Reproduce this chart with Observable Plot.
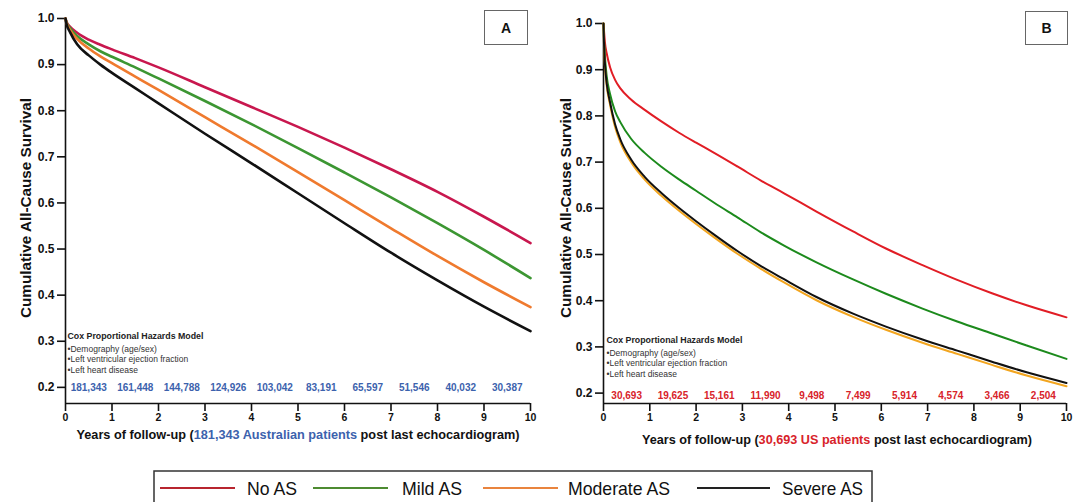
<!DOCTYPE html>
<html><head><meta charset="utf-8">
<script src="https://cdn.jsdelivr.net/npm/d3@7"></script>
<script src="https://cdn.jsdelivr.net/npm/@observablehq/plot@0.6"></script>
<style>
body{margin:0;background:#fff;}
#root{position:relative;width:1084px;height:502px;overflow:hidden;background:#fff;font-family:"Liberation Sans",Arial,Helvetica,sans-serif;}
.panel{position:absolute;top:0;}
.tag{position:absolute;border:1.3px solid #666;font:bold 14px "Liberation Sans",Arial,sans-serif;display:flex;align-items:center;justify-content:center;box-sizing:border-box;background:#fff;color:#111;}
</style></head><body><div id="root"></div>
<script>
// ---------- data ----------
const seriesNames = ["No AS", "Mild AS", "Moderate AS", "Severe AS"];
const xTicks = [0,1,2,3,4,5,6,7,8,9,10];
const yTicks = [0.2,0.3,0.4,0.5,0.6,0.7,0.8,0.9,1.0];

// Panel A (Australian cohort)
const tA    = [0, 0.02, 0.1, 0.25, 0.5, 0.75, 1, 1.5, 2, 3, 4, 5, 6, 7, 8, 9, 10];
const noA   = [1.0, 0.993, 0.982, 0.969, 0.954, 0.943, 0.933, 0.914, 0.894, 0.851, 0.808, 0.765, 0.720, 0.673, 0.624, 0.570, 0.513];
const mildA = [1.0, 0.992, 0.979, 0.962, 0.944, 0.929, 0.917, 0.894, 0.870, 0.821, 0.771, 0.719, 0.666, 0.612, 0.556, 0.498, 0.437];
const modA  = [1.0, 0.991, 0.975, 0.956, 0.935, 0.918, 0.903, 0.874, 0.845, 0.786, 0.727, 0.667, 0.606, 0.545, 0.485, 0.428, 0.374];
const sevA  = [1.0, 0.989, 0.970, 0.944, 0.920, 0.900, 0.882, 0.849, 0.816, 0.750, 0.686, 0.621, 0.556, 0.492, 0.432, 0.375, 0.322];
const atRiskA = [181343, 161448, 144788, 124926, 103042, 83191, 65597, 51546, 40032, 30387];

// Panel B (US cohort)
const tB    = [0, 0.01, 0.03, 0.07, 0.14, 0.25, 0.36, 0.6, 0.89, 1.25, 1.64, 2, 2.39, 2.9, 3.4, 3.89, 4.6, 5.39, 6.1, 6.89, 7.64, 8.39, 9.14, 10];
const noB   = [1.0, 0.985, 0.960, 0.935, 0.906, 0.878, 0.860, 0.835, 0.813, 0.788, 0.763, 0.742, 0.720, 0.690, 0.660, 0.633, 0.593, 0.550, 0.513, 0.477, 0.445, 0.416, 0.390, 0.364];
const mildB = [1.0, 0.970, 0.930, 0.885, 0.848, 0.810, 0.787, 0.750, 0.720, 0.690, 0.662, 0.638, 0.612, 0.580, 0.548, 0.520, 0.483, 0.446, 0.415, 0.383, 0.355, 0.329, 0.303, 0.274];
const modB  = [1.0, 0.955, 0.910, 0.865, 0.825, 0.776, 0.744, 0.699, 0.662, 0.627, 0.594, 0.566, 0.537, 0.501, 0.469, 0.440, 0.401, 0.365, 0.337, 0.309, 0.285, 0.261, 0.238, 0.215];
const sevB  = [1.0, 0.960, 0.915, 0.870, 0.830, 0.782, 0.750, 0.705, 0.668, 0.633, 0.600, 0.572, 0.543, 0.507, 0.475, 0.447, 0.408, 0.372, 0.344, 0.316, 0.292, 0.268, 0.245, 0.222];
const atRiskB = [30693, 19625, 15161, 11990, 9498, 7499, 5914, 4574, 3466, 2504];

const coxTitle = "Cox Proportional Hazards Model";
const coxLines = ["\u2022Demography (age/sex)", "\u2022Left ventricular ejection fraction", "\u2022Left heart disease"];
const yTitle = "Cumulative All-Cause Survival";
const xTitleA = ["Years of follow-up (", "181,343 Australian patients", " post last echocardiogram)"];
const xTitleB = ["Years of follow-up (", "30,693 US patients", " post last echocardiogram)"];

const colorsA = ["#c8174e", "#3c9632", "#ef7a2e", "#111111"];
const colorsB = ["#e11d25", "#1c8a1c", "#f2a51f", "#111111"];
const legendColors = ["#b8252f", "#4d8b31", "#e9843e", "#222222"];

// ---------- drawing ----------
const FONT = '"Liberation Sans", Arial, Helvetica, sans-serif';
const root = document.getElementById("root");

function makePanel(o) {
  const rows = seriesNames.flatMap((s, k) => o.t.map((t, i) => ({t, v: o.series[k][i], s})));
  const fmt = d3.format(",");
  const svg = Plot.plot({
    width: 542, height: 450,
    marginLeft: o.mLeft, marginRight: o.mRight, marginTop: o.mTop, marginBottom: 47,
    x: {domain: [0, 10]},
    y: {domain: [o.yBottom, 1]},
    color: {domain: seriesNames, range: o.colors},
    style: {fontFamily: FONT, background: "transparent", color: "#111", overflow: "visible"},
    marks: [
      Plot.axisY({ticks: yTicks, tickSize: 8, tickPadding: 3, tickFormat: d => d.toFixed(1), label: null,
                  fontSize: 12, fontWeight: "bold", strokeWidth: 1.6, stroke: "#111"}),
      Plot.axisX({ticks: xTicks, tickSize: 8, tickPadding: 2, label: null,
                  fontSize: 10.5, fontWeight: "bold", strokeWidth: 1.6, stroke: "#111"}),
      Plot.ruleX([0], {y1: o.yBottom, y2: 1, stroke: "#111", strokeWidth: 1.6}),
      Plot.ruleY([o.yBottom], {stroke: "#111", strokeWidth: 1.6}),
      Plot.line(rows, {x: "t", y: "v", z: "s", stroke: "s", strokeWidth: o.lw, curve: "monotone-x"}),
      Plot.text(o.atRisk, {x: (d, i) => i + 0.5, y: 0.2, text: d => fmt(d), fill: o.numColor,
                           fontSize: 10, fontWeight: "bold", dy: o.numDy}),
      Plot.text([coxTitle], {frameAnchor: "bottom-left", dx: o.coxDx, dy: o.coxDy, textAnchor: "start",
                             fontSize: 8.8, fontWeight: "bold", fill: "#222"}),
      Plot.text([coxLines.join("\n")], {frameAnchor: "bottom-left", dx: o.coxDx, dy: o.coxDy + 6, textAnchor: "start",
                             lineAnchor: "top", lineHeight: 1.23, fontSize: 8.5, fill: "#333"})
    ]
  });
  svg.classList.add("panel");
  svg.style.left = o.left + "px";
  root.appendChild(svg);

  const s = d3.select(svg);
  // y-axis title
  s.append("text")
    .attr("transform", `translate(${o.yTitleX},208) rotate(-90)`)
    .attr("text-anchor", "middle").attr("dominant-baseline", "central")
    .attr("font-family", FONT).attr("font-size", 14).attr("font-weight", "bold").attr("fill", "#111")
    .attr("textLength", 220).attr("lengthAdjust", "spacingAndGlyphs")
    .text(yTitle);
  // x-axis title with coloured middle part
  const xt = s.append("text")
    .attr("x", o.xTitleX).attr("y", o.xTitleY)
    .attr("text-anchor", "middle").attr("font-family", FONT).attr("font-size", 12).attr("font-weight", "bold")
    .attr("fill", "#111").attr("textLength", o.xTitleLen).attr("lengthAdjust", "spacingAndGlyphs");
  o.xTitle.forEach((part, i) => xt.append("tspan").attr("fill", i === 1 ? o.numColor : "#111").text(part));

  // panel tag
  const tag = document.createElement("div");
  tag.className = "tag";
  Object.assign(tag.style, {left: o.tag[0] + "px", top: o.tag[1] + "px", width: o.tag[2] + "px", height: o.tag[3] + "px"});
  tag.textContent = o.letter;
  root.appendChild(tag);
}

makePanel({
  left: 0, mLeft: 65, mRight: 12, mTop: 18, yBottom: 0.165,
  t: tA, series: [noA, mildA, modA, sevA], colors: colorsA, lw: 2.6,
  atRisk: atRiskA, numColor: "#3c62ad", numDy: 0,
  coxDx: 2, coxDy: -65,
  yTitleX: 26, xTitle: xTitleA, xTitleX: 298, xTitleY: 439, xTitleLen: 443,
  tag: [484, 10, 44, 35], letter: "A"
});
makePanel({
  left: 540, mLeft: 63, mRight: 16, mTop: 23, yBottom: 0.1775,
  t: tB, series: [noB, mildB, modB, sevB], colors: colorsB, lw: 2.0,
  atRisk: atRiskB, numColor: "#d8232a", numDy: 3,
  coxDx: 3, coxDy: -61,
  yTitleX: 26, xTitle: xTitleB, xTitleX: 297, xTitleY: 444, xTitleLen: 390,
  tag: [1025, 11, 43, 34], letter: "B"
});

// ---------- legend ----------
const leg = d3.select(root).append("svg")
  .attr("width", 1084).attr("height", 502)
  .style("position", "absolute").style("left", "0px").style("top", "0px");
leg.append("rect").attr("x", 154).attr("y", 471).attr("width", 718).attr("height", 45)
  .attr("fill", "none").attr("stroke", "#333").attr("stroke-width", 1.5);
const legLines = [[160, 235], [313, 388], [483, 558], [697, 770]];
const legText = [[247, 50], [402, 60], [568, 102], [782, 81]];
seriesNames.forEach((n, i) => {
  leg.append("line").attr("x1", legLines[i][0]).attr("x2", legLines[i][1]).attr("y1", 488).attr("y2", 488)
    .attr("stroke", legendColors[i]).attr("stroke-width", 2);
  leg.append("text").attr("x", legText[i][0]).attr("y", 494.5)
    .attr("font-family", FONT).attr("font-size", 18.5).attr("fill", "#111")
    .attr("textLength", legText[i][1]).attr("lengthAdjust", "spacingAndGlyphs")
    .text(n);
});
</script></body></html>
